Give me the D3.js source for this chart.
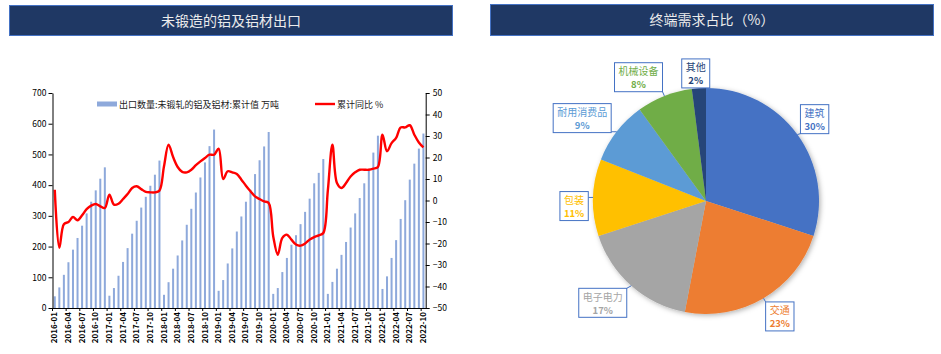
<!DOCTYPE html>
<html><head><meta charset="utf-8">
<script src="https://cdn.jsdelivr.net/npm/d3@7"></script>
<style>
body{margin:0;background:#fff;}
text{font-family:"Noto Sans CJK SC","Liberation Sans",sans-serif;}
</style></head>
<body><svg id="c" width="941" height="354"></svg>
<script>
// ---------- data ----------
const titleLeft = "未锻造的铝及铝材出口";
const titleRight = "终端需求占比（%）";
const barName = "出口数量:未锻轧的铝及铝材:累计值 万吨";
const lineName = "累计同比 %";
const months = d3.timeMonth.range(new Date(2016,0,1), new Date(2022,10,1)).map(d3.timeFormat("%Y-%m"));
const exportCum = [
 38,67,108,149,190,228,268,308,346,383,421,458,
 40,65,105,150,195,242,284,327,362,398,434,480,
 43,84,128,171,220,271,323,376,425,474,527,581,
 56,91,145,194,249,298,346,385,436,481,526,573,
 46,65,117,163,206,237,273,313,356,406,440,485,
 46,85,128,173,215,262,308,358,406,453,506,561,
 62,103,163,221,290,351,418,470,519,568];
const yoyCum = [
 5,-22,-11,-10,-7.7,-9.2,-6.9,-4,-2.4,-1.6,-2.7,-3.5,
 2.7,-1.9,-1.5,0.7,3,5.8,6.6,5.3,4,3.8,3.8,4.6,
 15.9,26,20.2,15.6,13.3,13.1,14.3,16.4,18.2,19.8,21.3,21.3,
 24.1,10,13.6,13.1,12.3,9.7,6.9,4.3,1.9,0.7,-0.4,-1.2,
 -16.7,-25.2,-17.4,-15.9,-18.2,-20.5,-21,-20,-18.2,-17,-16.2,-15.1,
 4.7,26,8.1,5.8,8.1,11.2,13.1,14.3,14.3,14.3,14.8,15.6,
 30.6,22.9,26.7,29.1,34,34,35,30.6,27,24.7];
const leftTicks = [0,100,200,300,400,500,600,700];
const rightTicks = [-50,-40,-30,-20,-10,0,10,20,30,40,50];
const sectors = ["建筑","交通","电子电力","包装","耐用消费品","机械设备","其他"];
const shares = [30,23,17,11,9,8,2];
const sectorColors = ["#4472C4","#ED7D31","#A5A5A5","#FFC000","#5B9BD5","#70AD47","#264478"];
// label layout (distance from centre, angle nudge in degrees)
const labelDist = [136,137,145,132,149,141,128];
const labelNudge = [-1,-2,4,-4,-4,-7,-1];

const svg = d3.select("#c");

// ---------- title bars ----------
function titleBar(x,y,w,h,t){
  svg.append("rect").attr("x",x).attr("y",y).attr("width",w).attr("height",h)
    .attr("fill","#1F3864").attr("stroke","#4472C4").attr("stroke-width",1);
  svg.append("text").attr("x",x+w/2).attr("y",y+h/2+5).attr("text-anchor","middle")
    .attr("font-size",14).attr("fill","#ECECEC").text(t);
}
titleBar(9.5,5.5,443,30,titleLeft);
titleBar(490.5,4.5,443,31,titleRight);

// ---------- left combo chart ----------
const L = 52.5, R = 425.7, T = 93, B = 308;
const x = d3.scaleBand().domain(months).range([L,R]).padding(0);
const yL = d3.scaleLinear().domain([0,700]).range([B,T]);
const yR = d3.scaleLinear().domain([-50,50]).range([B,T]);
const bw = x.bandwidth()*0.44;

svg.append("g").selectAll("rect").data(exportCum).join("rect")
  .attr("x",(d,i)=>x(months[i])+x.bandwidth()/2-bw/2)
  .attr("width",bw)
  .attr("y",d=>yL(d)).attr("height",d=>B-yL(d))
  .attr("fill","#8EA9DB");

const line = d3.line().x((d,i)=>x(months[i])+x.bandwidth()/2).y(d=>yR(d)).curve(d3.curveCatmullRom.alpha(0.5));
svg.append("path").datum(yoyCum).attr("d",line).attr("fill","none")
  .attr("stroke","#FF0000").attr("stroke-width",2.4).attr("stroke-linejoin","round");

const axL = svg.append("g").attr("transform",`translate(${L},0)`)
  .call(d3.axisLeft(yL).tickValues(leftTicks).tickSize(4).tickSizeOuter(0));
const axR = svg.append("g").attr("transform",`translate(${R},0)`)
  .call(d3.axisRight(yR).tickValues(rightTicks).tickSize(4).tickSizeOuter(0));
[axL,axR].forEach(a=>{
  a.selectAll("path,line").attr("stroke","#000");
  a.selectAll("text").attr("font-size",8.5).attr("fill","#000").attr("font-family","Liberation Sans, sans-serif");
});
axL.selectAll("text").attr("x",-6);

const shown = months.filter((m,i)=>i%3===0);
const axB = svg.append("g").attr("transform",`translate(0,${B})`)
  .call(d3.axisBottom(x).tickValues(shown).tickSize(0).tickSizeOuter(0));
axB.select(".domain").attr("stroke","#000");
axB.selectAll("text").attr("font-size",8).attr("font-weight","bold").attr("fill","#000")
  .attr("font-family","Liberation Sans, sans-serif")
  .attr("transform","rotate(-90)").attr("text-anchor","end").attr("dx","-4").attr("dy","-0.35em").attr("y",0).attr("x",-4);
axB.selectAll("text").attr("transform","rotate(-90)").attr("y",0).attr("x",-4).attr("dy","0.32em").attr("dx",0);
// tick marks at category boundaries every 3 months
svg.append("g").selectAll("line").data(shown).join("line")
  .attr("x1",d=>x(d)).attr("x2",d=>x(d)).attr("y1",B).attr("y2",B+3).attr("stroke","#000");

// legend
const lg = svg.append("g");
lg.append("rect").attr("x",97).attr("y",101.5).attr("width",20).attr("height",5).attr("fill","#8EA9DB");
lg.append("text").attr("x",119).attr("y",107.5).attr("font-size",9).attr("fill","#222").text(barName);
lg.append("line").attr("x1",315).attr("x2",335).attr("y1",104).attr("y2",104).attr("stroke","#FF0000").attr("stroke-width",2.4);
lg.append("text").attr("x",337).attr("y",107.5).attr("font-size",9).attr("fill","#222").text(lineName);

// ---------- pie ----------
const cx = 706, cy = 201, r = 113;
const defs = svg.append("defs");
const f = defs.append("filter").attr("id","sh").attr("x","-20%").attr("y","-20%").attr("width","140%").attr("height","140%");
f.append("feDropShadow").attr("dx",1.5).attr("dy",1.5).attr("stdDeviation",2.5).attr("flood-color","#000").attr("flood-opacity",0.3);

const pie = d3.pie().sort(null).value(d=>d)(shares);
const arc = d3.arc().innerRadius(0).outerRadius(r);
const pg = svg.append("g").attr("transform",`translate(${cx},${cy})`);
pg.append("g").attr("filter","url(#sh)").selectAll("path").data(pie).join("path")
  .attr("d",arc).attr("fill",(d,i)=>sectorColors[i]);

const lab = svg.append("g");
pie.forEach((d,i)=>{
  const mid = (d.startAngle+d.endAngle)/2;
  const tip = [cx+Math.sin(mid)*r, cy-Math.cos(mid)*r];
  const a2 = mid + labelNudge[i]*Math.PI/180;
  const bc = [cx+Math.sin(a2)*labelDist[i], cy-Math.cos(a2)*labelDist[i]];
  const g = lab.append("g");
  const t1 = g.append("text").attr("x",bc[0]).attr("y",bc[1]-2).attr("text-anchor","middle")
    .attr("font-size",10).attr("fill",sectorColors[i]).text(sectors[i]);
  const t2 = g.append("text").attr("x",bc[0]).attr("y",bc[1]+11).attr("text-anchor","middle")
    .attr("font-size",9.5).attr("font-weight","bold").attr("fill",sectorColors[i]).attr("font-family","Liberation Sans, sans-serif")
    .text(shares[i]+"%");
  const w = Math.max(t1.node().getComputedTextLength(), t2.node().getComputedTextLength())+8;
  const h = 29;
  const bx = bc[0]-w/2, by = bc[1]-h/2;
  // pointer: from nearest box point to tip
  const px = Math.max(bx,Math.min(bx+w,tip[0])), py = Math.max(by,Math.min(by+h,tip[1]));
  g.insert("line",":first-child").attr("x1",px).attr("y1",py).attr("x2",tip[0]).attr("y2",tip[1])
    .attr("stroke","#4472C4").attr("stroke-width",1);
  g.insert("rect","text").attr("x",bx).attr("y",by).attr("width",w).attr("height",h)
    .attr("fill","#fff").attr("stroke","#4472C4").attr("stroke-width",1);
});
</script></body></html>
